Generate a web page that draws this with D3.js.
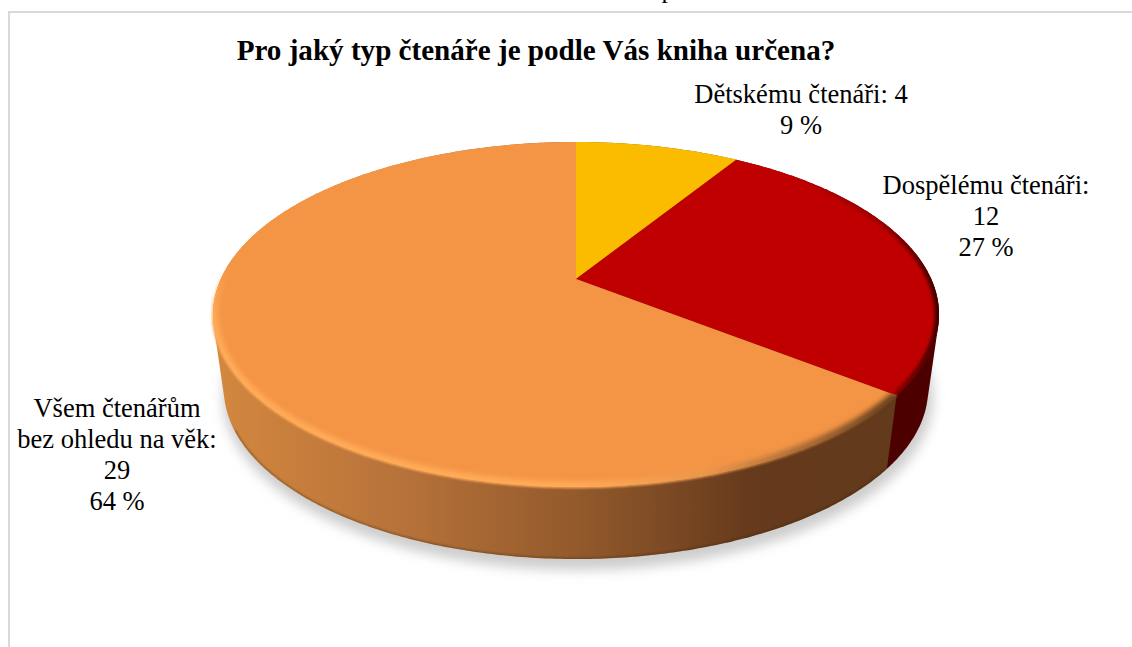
<!DOCTYPE html>
<html lang="cs">
<head>
<meta charset="utf-8">
<title>Pro jaký typ čtenáře je podle Vás kniha určena?</title>
<script src="https://cdn.jsdelivr.net/npm/d3@7"></script>
<style>
  html, body { margin: 0; padding: 0; background: #fff; }
  svg { display: block; }
  text { font-family: "Liberation Serif", serif; fill: #000; }
</style>
</head>
<body>
<svg id="chart" width="1132" height="647"></svg>
<script>
const titleText = "Pro jaký typ čtenáře je podle Vás kniha určena?";
const categories = ["Dětskému čtenáři", "Dospělému čtenáři", "Všem čtenářům bez ohledu na věk"];
const counts = [4, 12, 29];
const topColors = ["#FBBC00", "#C00000", "#F49546"];
const sideColors = ["#7d6000", "#4d0000", "url(#sideShade)"];
// How each category name wraps, and whether the count stays on the name's last line
const nameLines = [["Dětskému čtenáři:"], ["Dospělému čtenáři:"], ["Všem čtenářům", "bez ohledu na věk:"]];
const countInline = [true, false, false];

const svg = d3.select("#chart");
const W = 1132, H = 647;
const total = d3.sum(counts);

// Perspective disc: angle 0 points away from the viewer, angles run clockwise
const cx = 576, apexY = 279, farY = 142, nearY = 487, halfWidth = 363;
const baseShrinkX = 0.97, baseShrinkY = 0.985, baseDrop = 74.6;
const tilt = (2 * apexY - farY - nearY) / (farY - nearY);
const persp = farY * (1 + tilt) - apexY;
const lateral = halfWidth * Math.sqrt(1 - tilt * tilt);
const midY = (farY + nearY) / 2;

function rimTop(a) {
  const x = Math.sin(a), z = Math.cos(a), w = 1 + tilt * z;
  return [cx + lateral * x / w, (persp * z + apexY) / w];
}
function rimBase(a) {
  const [x, y] = rimTop(a);
  return [cx + (x - cx) * baseShrinkX, midY + (y - midY) * baseShrinkY + baseDrop];
}
const arcSteps = (a0, a1) => {
  const n = Math.max(2, Math.ceil((a1 - a0) * 90));
  return d3.range(n + 1).map(i => a0 + (a1 - a0) * i / n);
};
const line = d3.line().curve(d3.curveLinear);

const slices = d3.pie().sort(null).value(d => d)(counts);
const apex = [cx, apexY];
const topPath = s => line([apex, ...arcSteps(s.startAngle, s.endAngle).map(rimTop)]) + "Z";
// A wedge's wall is the hull of its two rims; the inner chord ends up beneath the top faces
const sidePath = s => {
  const steps = arcSteps(s.startAngle, s.endAngle);
  return line(d3.polygonHull([...steps.map(rimTop), ...steps.map(rimBase)])) + "Z";
};

const defs = svg.append("defs");
function blur(id, sd) {
  defs.append("filter").attr("id", id)
    .attr("filterUnits", "userSpaceOnUse")
    .attr("x", 0).attr("y", 0).attr("width", W).attr("height", H)
    .append("feGaussianBlur").attr("stdDeviation", sd);
}
blur("blurShadow", 6);
blur("blurBevel", 2.4);
blur("blurRed", 1.8);
blur("blurEdge", 0.9);

function hGradient(id, stops) {
  const g = defs.append("linearGradient").attr("id", id)
    .attr("gradientUnits", "userSpaceOnUse")
    .attr("x1", cx - halfWidth).attr("x2", cx + halfWidth).attr("y1", 0).attr("y2", 0);
  stops.forEach(([o, c, a]) => g.append("stop").attr("offset", o).attr("stop-color", c).attr("stop-opacity", a === undefined ? 1 : a));
}
hGradient("sideShade", [[0, "#d4883f"], [0.25, "#b8733a"], [0.5, "#935a2c"], [0.74, "#663a1c"], [1, "#613a1c"]]);
hGradient("bevelWarm", [[0, "#ffab58"], [0.5, "#ffab58"], [0.68, "#e9974c"], [0.85, "#9a6030"], [0.93, "#6e4420"], [1, "#6e4420"]]);
hGradient("bevelRed", [[0.8, "#500000", 0], [0.92, "#600000", 0.4], [1, "#400000", 1]]);

// Fades the warm bevel out on the far half of the rim
const fade = defs.append("linearGradient").attr("id", "rimFade")
  .attr("gradientUnits", "userSpaceOnUse")
  .attr("x1", 0).attr("x2", 0).attr("y1", 265).attr("y2", 325);
fade.append("stop").attr("offset", 0).attr("stop-color", "#000");
fade.append("stop").attr("offset", 1).attr("stop-color", "#fff");
defs.append("mask").attr("id", "rimMask")
  .attr("maskUnits", "userSpaceOnUse")
  .attr("x", 0).attr("y", 0).attr("width", W).attr("height", H)
  .append("rect").attr("width", W).attr("height", H).attr("fill", "url(#rimFade)");

slices.forEach((s, i) => {
  defs.append("clipPath").attr("id", `topClip${i}`).append("path").attr("d", topPath(s));
  defs.append("clipPath").attr("id", `sideClip${i}`).append("path").attr("d", sidePath(s));
});

// Frame of the chart area, open at the right and bottom of the page
svg.append("path")
  .attr("d", d3.line()([[9, H], [9, 12], [W, 12]]))
  .attr("fill", "none").attr("stroke", "#d9d9d9").attr("stroke-width", 2);

// Clipped line of running text from above the chart area
svg.append("text").attr("x", 668).attr("y", -2)
  .attr("text-anchor", "middle").attr("font-size", 26).text("p");

svg.append("text").attr("x", 536).attr("y", 60)
  .attr("text-anchor", "middle").attr("font-size", 29.1).attr("font-weight", "bold")
  .text(titleText);

// Soft ground shadow
const wholeBase = arcSteps(0, 2 * Math.PI).map(rimBase);
svg.append("path").attr("d", line(wholeBase) + "Z")
  .attr("transform", "translate(2,8)")
  .attr("fill", "#cdcdcd").attr("stroke", "#cdcdcd").attr("stroke-width", 6)
  .attr("filter", "url(#blurShadow)");

// Outer walls in pie order, so the largest wedge's wall closes over the seam
svg.append("g").selectAll("path").data(slices).join("path")
  .attr("d", sidePath).attr("fill", (d, i) => sideColors[i]);

// Darker seam along the foot of the largest wedge's wall, stopping short of its leftmost point
const [, redSlice, warmSlice] = slices;
svg.append("g").attr("clip-path", "url(#sideClip2)")
  .append("path")
  .attr("d", line(arcSteps(warmSlice.startAngle, 1.36 * Math.PI).map(rimBase)))
  .attr("fill", "none").attr("stroke", "#3a2008").attr("stroke-opacity", 0.4)
  .attr("stroke-width", 2.5).attr("filter", "url(#blurEdge)");

// Top faces
svg.append("g").selectAll("path").data(slices).join("path")
  .attr("d", topPath).attr("fill", (d, i) => topColors[i]);

// Rounded bevel along the rim of the two large wedges
svg.append("g").attr("clip-path", "url(#topClip1)")
  .append("path")
  .attr("d", line(arcSteps(redSlice.startAngle, redSlice.endAngle).map(rimTop)))
  .attr("fill", "none").attr("stroke", "url(#bevelRed)").attr("stroke-width", 9)
  .attr("filter", "url(#blurRed)");
svg.append("g").attr("mask", "url(#rimMask)")
  .append("g").attr("clip-path", "url(#topClip2)")
  .append("path")
  .attr("d", line(arcSteps(warmSlice.startAngle, warmSlice.endAngle).map(rimTop)))
  .attr("fill", "none").attr("stroke", "url(#bevelWarm)").attr("stroke-width", 11)
  .attr("filter", "url(#blurBevel)");

// Soft transition where the warm top face rolls over into its wall
svg.append("path")
  .attr("d", line(arcSteps(warmSlice.startAngle, warmSlice.endAngle).map(rimTop)))
  .attr("mask", "url(#rimMask)")
  .attr("fill", "none").attr("stroke", "url(#bevelWarm)").attr("stroke-width", 2.5)
  .attr("filter", "url(#blurEdge)");

// Data labels: name, count and share, centred on their anchors
const labelAnchors = [[801, 103], [986, 194], [117, 417]];
const lineGap = 31;
const fmtShare = v => `${Math.round(v / total * 100)} %`;
const labelLines = counts.map((c, i) => {
  const names = nameLines[i].slice();
  if (countInline[i]) {
    names[names.length - 1] += ` ${c}`;
    return [...names, fmtShare(c)];
  }
  return [...names, String(c), fmtShare(c)];
});
svg.append("g").selectAll("text").data(labelLines).join("text")
  .attr("text-anchor", "middle").attr("font-size", 26.5)
  .attr("transform", (d, i) => `translate(${labelAnchors[i]})`)
  .selectAll("tspan").data(d => d).join("tspan")
  .attr("x", 0).attr("y", (d, i) => i * lineGap).text(d => d);
</script>
</body>
</html>
